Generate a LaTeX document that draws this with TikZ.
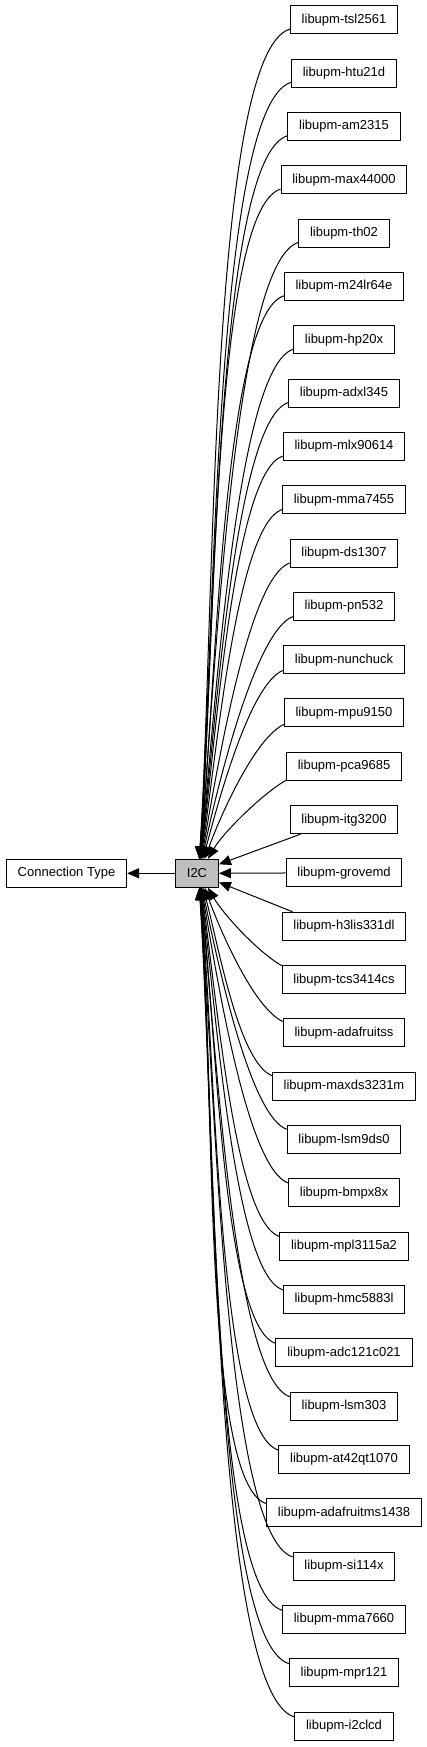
\documentclass[tikz,border=0pt]{standalone}
\usepackage{fontspec}
\setmainfont{Liberation Sans}
\usetikzlibrary{arrows.meta}
\begin{document}
\begin{tikzpicture}[x=1pt,y=1pt,
  box/.style={draw=black, line width=1pt, minimum height=28pt, inner xsep=11.3pt, inner ysep=0pt, font=\fontsize{13}{15}\selectfont},
  edge/.style={line width=1pt, -{Triangle[length=12pt,width=10pt]}}]
\useasboundingbox (0,0) rectangle (427,-1747);
\node[box, fill=gray!50] (i2c) at (197,-873.3) {I2C};
\node[box] (ct) at (66.5,-873.3) {Connection Type};
\draw[edge] (i2c) -- (ct);
\foreach \nm [count=\i from 0] in {tsl2561,htu21d,am2315,max44000,th02,m24lr64e,hp20x,adxl345,mlx90614,mma7455,ds1307,pn532,nunchuck,mpu9150,pca9685,itg3200,grovemd,h3lis331dl,tcs3414cs,adafruitss,maxds3231m,lsm9ds0,bmpx8x,mpl3115a2,hmc5883l,adc121c021,lsm303,at42qt1070,adafruitms1438,si114x,mma7660,mpr121,i2clcd} {
  \node[box] (n\i) at (344, {-19.7-53.33*\i}) {libupm-\nm};
}
\foreach \i in {0,...,32} {
  \pgfmathtruncatemacro\myk{\i-16}
  \ifnum\myk=0
    \draw[edge] (n\i.west) -- (i2c.east);
  \else\ifnum\myk=-1
    \draw[edge] ([xshift=11pt]n\i.south west) -- ([yshift=9pt]i2c.east);
  \else\ifnum\myk=1
    \draw[edge] ([xshift=11pt]n\i.north west) -- ([yshift=-9pt]i2c.east);
  \else
    \pgfmathsetmacro\mya{abs(\myk)}
    \pgfmathsetmacro\mys{\myk/\mya}
    \pgfmathsetmacro\mysy{\mys*(9+5/(\mya-1))}
    \pgfmathsetmacro\myex{1+20/\mya}
    \pgfmathsetmacro\myda{20+4*\mya}
    \pgfmathsetmacro\myoa{15+30/\mya}
    \pgfmathsetmacro\myia{90-60/\mya}
    \pgfmathsetmacro\mydb{15*\mya}
    \pgfmathsetmacro\cax{-\myda*cos(\myoa)}
    \pgfmathsetmacro\cay{\mys*\myda*sin(\myoa)}
    \pgfmathsetmacro\cbx{\mydb*cos(\myia)}
    \pgfmathsetmacro\cby{-\mys*\mydb*sin(\myia)}
    \ifnum\myk<0
      \draw[edge] ([yshift=\mysy]n\i.west) .. controls +(\cax,\cay) and +(\cbx,\cby) .. ([xshift=\myex]i2c.north);
    \else
      \draw[edge] ([yshift=\mysy]n\i.west) .. controls +(\cax,\cay) and +(\cbx,\cby) .. ([xshift=\myex]i2c.south);
    \fi
  \fi\fi\fi
}
\end{tikzpicture}
\end{document}
